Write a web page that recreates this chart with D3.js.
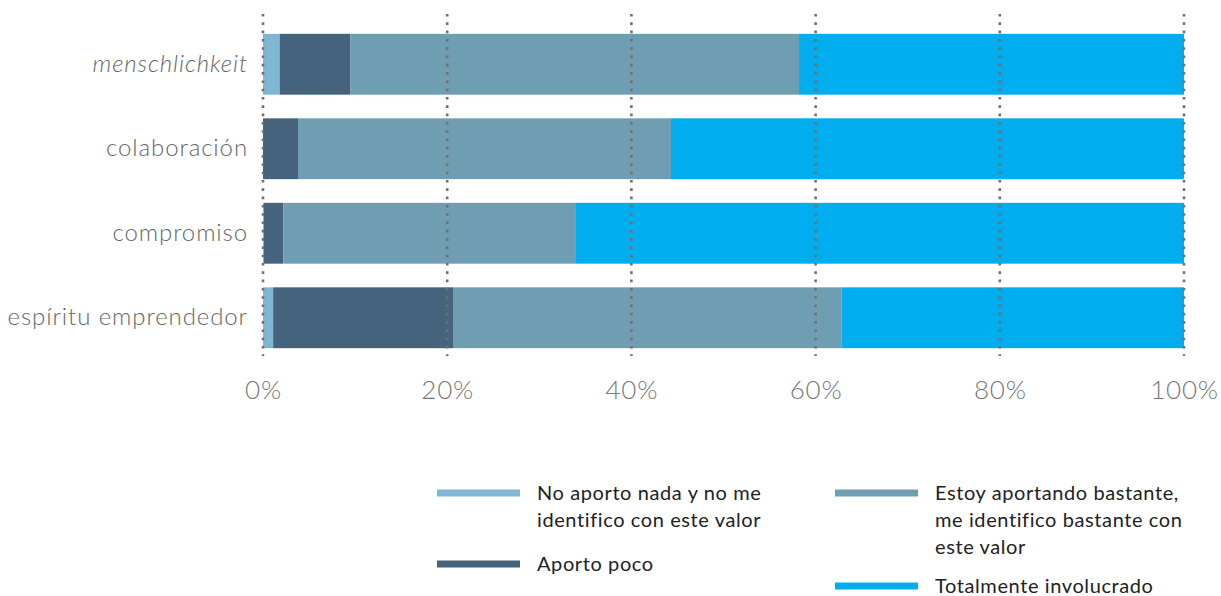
<!DOCTYPE html>
<html><head><meta charset="utf-8">
<script src="https://cdn.jsdelivr.net/npm/d3@7"></script>
<style>body{margin:0;background:#fff}svg{display:block}</style>
</head><body>
<svg id="c" width="1221" height="596"></svg>
<script>
const categories = ["menschlichkeit", "colaboración", "compromiso", "espíritu emprendedor"];
const seriesNames = ["No aporto nada y no me identifico con este valor", "Aporto poco", "Estoy aportando bastante, me identifico bastante con este valor", "Totalmente involucrado"];
const noAporto   = [1.8, 0.0, 0.1, 1.1];
const aportoPoco = [7.7, 3.8, 2.1, 19.6];
const bastante   = [48.7, 40.5, 31.7, 42.1];
const totalmente = [41.8, 55.7, 66.1, 37.2];
const tickValues = [0, 20, 40, 60, 80, 100];
const colors = ["#7fb7d2", "#45637d", "#6f9db2", "#00adee"];
const legendLines = [["No aporto nada y no me", "identifico con este valor"], ["Aporto poco"], ["Estoy aportando bastante,", "me identifico bastante con", "este valor"], ["Totalmente involucrado"]];

const svg = d3.select("#c");
const x = d3.scaleLinear().domain([0, 100]).range([263, 1184]);
const y = d3.scaleBand().domain(categories).range([22, 360]).paddingInner(0.28).paddingOuter(0.14);

const series = [noAporto, aportoPoco, bastante, totalmente];
const rows = categories.map((c, i) => {
  const o = {cat: c};
  seriesNames.forEach((s, j) => o[s] = series[j][i]);
  return o;
});
const stacked = d3.stack().keys(seriesNames)(rows);

svg.append("g").selectAll("g").data(stacked).join("g")
  .attr("fill", (d, i) => colors[i])
  .selectAll("rect").data(d => d).join("rect")
  .attr("x", d => x(d[0]))
  .attr("width", d => Math.max(0, x(d[1]) - x(d[0])))
  .attr("y", d => y(d.data.cat))
  .attr("height", y.bandwidth());

// grid lines (dotted) drawn on top
svg.append("g").selectAll("line").data(tickValues).join("line")
  .attr("x1", d => x(d)).attr("x2", d => x(d))
  .attr("y1", 14).attr("y2", 356)
  .attr("stroke", "#707070").attr("stroke-width", 2.6)
  .attr("stroke-dasharray", "2.6,5.7");

// x tick labels
const xAxis = d3.axisBottom(x).tickValues(tickValues).tickFormat(d => d + "%").tickSize(0).tickPadding(0);
const gx = svg.append("g").attr("transform", "translate(0,381)").call(xAxis);
gx.select(".domain").remove();
gx.selectAll("text").attr("font-family", "Lato, sans-serif").attr("font-weight", 300)
  .attr("font-size", 26).attr("letter-spacing", 0.8).attr("fill", "#777").attr("dy", "0.71em");

// y category labels
const yAxis = d3.axisLeft(y).tickSize(0).tickPadding(0);
const gy = svg.append("g").attr("transform", "translate(248,0)").call(yAxis);
gy.select(".domain").remove();
gy.selectAll("text").attr("font-family", "Lato, sans-serif").attr("font-weight", 300)
  .attr("font-size", 24).attr("letter-spacing", 0.9).attr("fill", "#666")
  .attr("font-style", d => d === "menschlichkeit" ? "italic" : "normal");

// legend
const legPos = [[437, 493], [437, 564], [835, 493], [835, 586]];
const lg = svg.append("g").selectAll("g").data(seriesNames).join("g")
  .attr("transform", (d, i) => `translate(${legPos[i][0]},${legPos[i][1]})`);
lg.append("line").attr("x1", 0).attr("x2", 83).attr("y1", 0).attr("y2", 0)
  .attr("stroke", (d, i) => colors[i]).attr("stroke-width", 7);
lg.each(function(d, i) {
  const t = d3.select(this).append("text").attr("x", 100)
    .attr("font-family", "Lato, sans-serif").attr("font-size", 20).attr("letter-spacing", 0.6).attr("fill", "#222");
  legendLines[i].forEach((ln, k) => {
    t.append("tspan").attr("x", 100).attr("y", k * 27).attr("dy", "0.35em").text(ln);
  });
});
</script>
</body></html>
